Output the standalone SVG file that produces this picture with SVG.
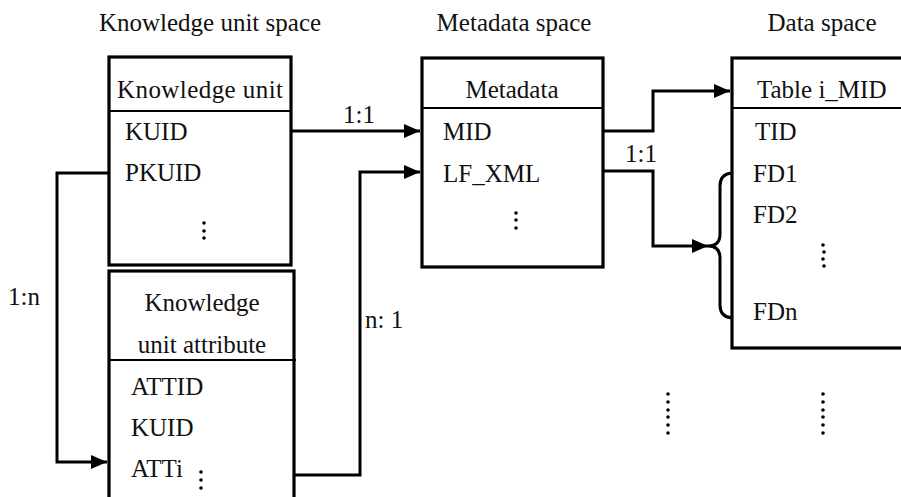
<svg xmlns="http://www.w3.org/2000/svg" width="901" height="497" viewBox="0 0 901 497">
<defs>
<marker id="arr" markerWidth="16" markerHeight="14" refX="16" refY="7" orient="auto" markerUnits="userSpaceOnUse">
<path d="M0,0 L16,7 L0,14 Z" fill="#000"/>
</marker>
<style>
text{font-family:"Liberation Serif","Times New Roman",serif;font-size:25px;fill:#111}
.box{fill:#fff;stroke:#000;stroke-width:3.2}
.div{stroke:#000;stroke-width:2}
.c{fill:none;stroke:#000;stroke-width:3}
.mid{text-anchor:middle}
</style>
</defs>
<rect width="901" height="497" fill="#fff"/>
<g id="titles">
<text x="210" y="31" class="mid">Knowledge unit space</text>
<text x="514" y="31" class="mid">Metadata space</text>
<text x="822" y="31" class="mid">Data space</text>
</g>
<g id="knowledge-unit">
<rect class="box" x="109" y="57" width="182" height="208"/>
<line class="div" x1="109" y1="111" x2="291" y2="111"/>
<text x="200" y="98" class="mid" textLength="166">Knowledge unit</text>
<text x="125" y="140">KUID</text>
<text x="125" y="181">PKUID</text>
<circle cx="204" cy="223" r="1.8"/><circle cx="204" cy="231" r="1.8"/><circle cx="204" cy="238" r="1.8"/>
</g>
<g id="knowledge-unit-attribute">
<rect class="box" x="109" y="271" width="185" height="240"/>
<line class="div" x1="109" y1="360" x2="296" y2="360"/>
<text x="202" y="311" class="mid">Knowledge</text>
<text x="202" y="353" class="mid">unit attribute</text>
<text x="131" y="395">ATTID</text>
<text x="131" y="436">KUID</text>
<text x="131" y="477">ATTi</text>
<circle cx="201" cy="472" r="1.8"/><circle cx="201" cy="480" r="1.8"/><circle cx="201" cy="488" r="1.8"/>
</g>
<g id="metadata">
<rect class="box" x="422" y="58" width="181" height="209"/>
<line class="div" x1="422" y1="108" x2="603" y2="108"/>
<text x="512" y="98" class="mid">Metadata</text>
<text x="443" y="140">MID</text>
<text x="443" y="182">LF_XML</text>
<circle cx="516" cy="213" r="1.8"/><circle cx="516" cy="220" r="1.8"/><circle cx="516" cy="228" r="1.8"/>
</g>
<g id="table-i-mid">
<rect class="box" x="732" y="58" width="180" height="290"/>
<line class="div" x1="732" y1="108" x2="901" y2="108"/>
<text x="757" y="98">Table i_MID</text>
<text x="755" y="140">TID</text>
<text x="753" y="182">FD1</text>
<text x="753" y="223">FD2</text>
<text x="753" y="320">FDn</text>
<circle cx="823" cy="245" r="1.8"/><circle cx="824" cy="252" r="1.8"/><circle cx="823" cy="259" r="1.8"/><circle cx="824" cy="266" r="1.8"/>
</g>
<g id="ellipsis-bottom">
<circle cx="668" cy="394" r="1.8"/><circle cx="668" cy="402" r="1.8"/><circle cx="668" cy="410" r="1.8"/><circle cx="668" cy="417" r="1.8"/><circle cx="668" cy="425" r="1.8"/><circle cx="668" cy="433" r="1.8"/>
<circle cx="823" cy="394" r="1.8"/><circle cx="823" cy="402" r="1.8"/><circle cx="823" cy="410" r="1.8"/><circle cx="823" cy="417" r="1.8"/><circle cx="823" cy="425" r="1.8"/><circle cx="823" cy="433" r="1.8"/>
</g>
<g id="connectors">
<path class="c" d="M291,131 H420" marker-end="url(#arr)"/>
<path class="c" d="M109,173 H57 V462 H107" marker-end="url(#arr)"/>
<path class="c" d="M294,475 H360 V172 H420" marker-end="url(#arr)"/>
<path class="c" d="M603,131 H653 V91 H730" marker-end="url(#arr)"/>
<path class="c" d="M603,171 H653 V246 H708" marker-end="url(#arr)"/>
<path class="c" d="M732,173 Q720,174 720,186 V234 Q720,246 708,246 Q720,246 720,258 V305 Q720,317 732,318"/>
<text x="343" y="123">1:1</text>
<text x="625" y="162">1:1</text>
<text x="8" y="305">1:n</text>
<text x="365" y="328">n: 1</text>
</g>
</svg>
